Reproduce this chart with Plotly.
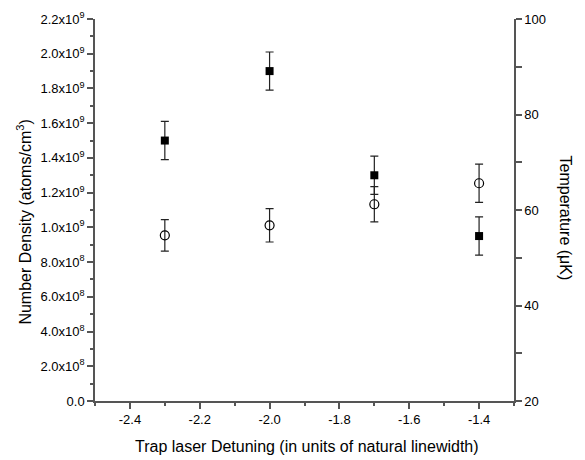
import plotly.graph_objects as go

detuning = [-2.3, -2.0, -1.7, -1.4]
density = [1.50e9, 1.90e9, 1.30e9, 0.95e9]
density_err = [0.11e9, 0.11e9, 0.11e9, 0.11e9]
temperature = [54.7, 56.8, 61.2, 65.6]
temperature_err = [3.3, 3.5, 3.7, 4.0]

left_tickvals = [0, 2e8, 4e8, 6e8, 8e8, 1.0e9, 1.2e9, 1.4e9, 1.6e9, 1.8e9, 2.0e9, 2.2e9]
left_ticktext = ["0.0", "2.0x10<sup>8</sup>", "4.0x10<sup>8</sup>", "6.0x10<sup>8</sup>",
                 "8.0x10<sup>8</sup>", "1.0x10<sup>9</sup>", "1.2x10<sup>9</sup>",
                 "1.4x10<sup>9</sup>", "1.6x10<sup>9</sup>", "1.8x10<sup>9</sup>",
                 "2.0x10<sup>9</sup>", "2.2x10<sup>9</sup>"]
x_tickvals = [-2.4, -2.2, -2.0, -1.8, -1.6, -1.4]
x_ticktext = ["-2.4", "-2.2", "-2.0", "-1.8", "-1.6", "-1.4"]
right_tickvals = [20, 40, 60, 80, 100]

FONT = "Liberation Sans, Arial, sans-serif"
AX = "#555555"

fig = go.Figure()
fig.add_trace(go.Scatter(
    x=detuning, y=density, mode="markers", yaxis="y",
    marker=dict(symbol="square", size=8, color="black"),
    error_y=dict(type="data", array=density_err, color="#222222", thickness=1.2, width=4),
    showlegend=False))
fig.add_trace(go.Scatter(
    x=detuning, y=temperature, mode="markers", yaxis="y2",
    marker=dict(symbol="circle-open", size=9, color="black", line=dict(width=1.2)),
    error_y=dict(type="data", array=temperature_err, color="#222222", thickness=1.2, width=4),
    showlegend=False))

tick_common = dict(showgrid=False, zeroline=False, showline=True, linecolor=AX, linewidth=1.5,
                   ticks="outside", ticklen=6, tickcolor=AX, tickwidth=1.5, automargin=False)

# page body has an 8px default margin, so the figure is sized to fit the 585x460 window
fig.update_layout(
    width=577, height=452,
    margin=dict(l=87, r=71, t=11, b=59),
    paper_bgcolor="white", plot_bgcolor="white",
    font=dict(family=FONT, size=13, color="black"),
    xaxis=dict(range=[-2.5, -1.3], tickvals=x_tickvals, ticktext=x_ticktext,
               minor=dict(dtick=0.1, ticks="outside", ticklen=3, tickcolor=AX, tickwidth=1.5),
               tickfont=dict(size=13),
               **tick_common),
    yaxis=dict(range=[0, 2.2e9], tickvals=left_tickvals, ticktext=left_ticktext,
               minor=dict(tick0=0, dtick=1e8, ticks="outside", ticklen=3, tickcolor=AX, tickwidth=1.5),
               tickfont=dict(size=13),
               **tick_common),
    yaxis2=dict(range=[20, 100], overlaying="y", side="right", tickvals=right_tickvals,
                minor=dict(tick0=20, dtick=10, ticks="outside", ticklen=6, tickcolor=AX, tickwidth=1.5),
                tickfont=dict(size=13),
                **tick_common),
    annotations=[
        dict(text="Temperature (\u03bcK)", textangle=90, xref="paper", yref="paper",
             x=1.122, y=0.48, xanchor="center", yanchor="middle", showarrow=False,
             font=dict(size=16)),
        dict(text="Number Density (atoms/cm<sup>3</sup>)", textangle=-90, xref="paper", yref="paper",
             x=-0.17, y=0.469, xanchor="center", yanchor="middle", showarrow=False,
             font=dict(size=16)),
        dict(text="Trap laser Detuning (in units of natural linewidth)", xref="paper", yref="paper",
             x=0.505, y=-0.12, xanchor="center", yanchor="middle", showarrow=False,
             font=dict(size=16)),
    ],
)

fig.write_html("out.html")
